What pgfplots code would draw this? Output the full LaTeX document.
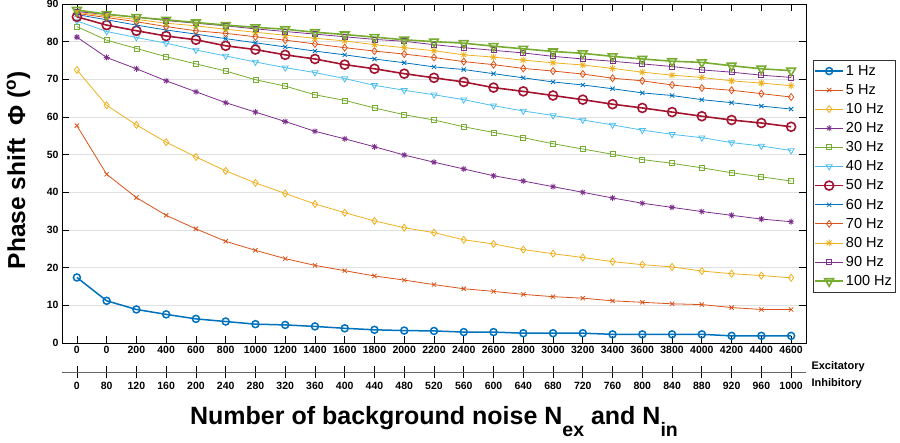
\documentclass[border=0pt]{standalone}
\usepackage{pgfplots}
\pgfplotsset{compat=1.18}
\usepackage{fontspec}
\setmainfont{Liberation Sans}
\definecolor{mb}{rgb}{0,0.447,0.741}
\definecolor{mo}{rgb}{0.85,0.325,0.098}
\definecolor{my}{rgb}{0.929,0.694,0.125}
\definecolor{mp}{rgb}{0.494,0.184,0.556}
\definecolor{mg}{rgb}{0.466,0.674,0.188}
\definecolor{mc}{rgb}{0.301,0.745,0.933}
\definecolor{mr}{rgb}{0.635,0.078,0.184}
\pgfdeclareplotmark{mstar}{%
  \pgfpathmoveto{\pgfpoint{0pt}{\pgfplotmarksize}}\pgfpathlineto{\pgfpoint{0pt}{-\pgfplotmarksize}}%
  \pgfpathmoveto{\pgfpoint{\pgfplotmarksize}{0pt}}\pgfpathlineto{\pgfpoint{-\pgfplotmarksize}{0pt}}%
  \pgfpathmoveto{\pgfpoint{0.707\pgfplotmarksize}{0.707\pgfplotmarksize}}\pgfpathlineto{\pgfpoint{-0.707\pgfplotmarksize}{-0.707\pgfplotmarksize}}%
  \pgfpathmoveto{\pgfpoint{0.707\pgfplotmarksize}{-0.707\pgfplotmarksize}}\pgfpathlineto{\pgfpoint{-0.707\pgfplotmarksize}{0.707\pgfplotmarksize}}%
  \pgfusepathqstroke}
\begin{document}
\begin{tikzpicture}
\useasboundingbox (-62pt,-100pt) rectangle (838pt,343pt);
\begin{axis}[
  scale only axis, width=744pt, height=339pt,
  xmin=-0.5, xmax=24.5, ymin=0, ymax=90,
  xtick={0,1,...,24},
  xticklabels={0,0,200,400,600,800,1000,1200,1400,1600,1800,2000,2200,2400,2600,2800,3000,3200,3400,3600,3800,4000,4200,4400,4600},
  ytick={0,10,...,90},
  tick align=inside, major tick length=7pt,
  tick style={black, line width=0.7pt},
  axis line style={black, line width=0.7pt},
  ymajorgrids, major grid style={black!12, line width=0.8pt},
  ticklabel style={font=\fontsize{10.5}{12}\selectfont\bfseries},
  /pgf/number format/assume math mode=true,
  ylabel={Phase shift\hspace{0.55em}Φ (\textsuperscript{o})},
  ylabel style={font=\fontsize{24.5}{28}\selectfont\bfseries, at={(axis description cs:-0.0497,0.51)}, anchor=base},
  legend style={at={(1,1)}, anchor=north west, xshift=7pt, yshift=-56pt, font=\fontsize{14.5}{16}\selectfont, draw=black!80, line width=0.7pt, inner xsep=1pt, inner ysep=3pt, row sep=3.5pt},
  legend cell align=left,
  legend image code/.code={\draw[mark repeat=2,mark phase=2,#1] plot coordinates {(0pt,0pt) (14pt,0pt) (28pt,0pt)};},
]
\addplot[mb, line width=1.5pt, mark=o, mark size=3.5pt] coordinates {(0,17.4)(1,11.2)(2,8.9)(3,7.6)(4,6.4)(5,5.7)(6,5.0)(7,4.8)(8,4.4)(9,3.9)(10,3.5)(11,3.3)(12,3.2)(13,2.9)(14,2.9)(15,2.6)(16,2.6)(17,2.6)(18,2.3)(19,2.3)(20,2.3)(21,2.3)(22,1.9)(23,1.9)(24,1.9)};
\addlegendentry{1 Hz}
\addplot[mo, line width=0.8pt, mark=x, mark size=3pt] coordinates {(0,57.7)(1,44.8)(2,38.6)(3,33.9)(4,30.3)(5,27.0)(6,24.6)(7,22.4)(8,20.6)(9,19.2)(10,17.8)(11,16.7)(12,15.5)(13,14.4)(14,13.7)(15,12.9)(16,12.3)(17,11.9)(18,11.2)(19,10.8)(20,10.4)(21,10.2)(22,9.4)(23,8.9)(24,8.9)};
\addlegendentry{5 Hz}
\addplot[my, line width=0.8pt, mark=diamond, mark size=3.5pt] coordinates {(0,72.5)(1,63.1)(2,57.9)(3,53.3)(4,49.4)(5,45.7)(6,42.5)(7,39.7)(8,36.9)(9,34.6)(10,32.4)(11,30.6)(12,29.3)(13,27.4)(14,26.3)(15,24.8)(16,23.7)(17,22.7)(18,21.6)(19,20.8)(20,20.2)(21,19.1)(22,18.4)(23,17.9)(24,17.3)};
\addlegendentry{10 Hz}
\addplot[mp, line width=0.8pt, mark=mstar, mark size=3pt] coordinates {(0,81.2)(1,75.8)(2,72.8)(3,69.6)(4,66.7)(5,63.8)(6,61.3)(7,58.8)(8,56.2)(9,54.2)(10,52.1)(11,49.9)(12,48.0)(13,46.2)(14,44.4)(15,43.0)(16,41.5)(17,40.0)(18,38.5)(19,37.1)(20,36.0)(21,34.9)(22,33.9)(23,32.9)(24,32.2)};
\addlegendentry{20 Hz}
\addplot[mg, line width=0.8pt, mark=square, mark size=2.5pt] coordinates {(0,84.0)(1,80.4)(2,78.2)(3,76.0)(4,74.1)(5,72.2)(6,69.9)(7,68.2)(8,65.9)(9,64.4)(10,62.4)(11,60.6)(12,59.2)(13,57.4)(14,55.9)(15,54.5)(16,52.9)(17,51.5)(18,50.1)(19,48.7)(20,47.7)(21,46.5)(22,45.2)(23,44.1)(24,43.0)};
\addlegendentry{30 Hz}
\addplot[mc, line width=0.8pt, mark=triangle, mark size=3.5pt, mark options={rotate=180}] coordinates {(0,85.5)(1,82.7)(2,81.1)(3,79.6)(4,77.8)(5,76.2)(6,74.6)(7,73.1)(8,71.8)(9,70.2)(10,68.4)(11,67.1)(12,65.9)(13,64.6)(14,63.0)(15,61.6)(16,60.4)(17,59.2)(18,57.9)(19,56.5)(20,55.4)(21,54.5)(22,53.2)(23,52.3)(24,51.1)};
\addlegendentry{40 Hz}
\addplot[mr, line width=1.6pt, mark=o, mark size=4.5pt] coordinates {(0,86.6)(1,84.4)(2,82.9)(3,81.5)(4,80.5)(5,78.9)(6,77.9)(7,76.5)(8,75.4)(9,73.9)(10,72.8)(11,71.5)(12,70.4)(13,69.3)(14,67.8)(15,66.8)(16,65.7)(17,64.6)(18,63.4)(19,62.4)(20,61.3)(21,60.2)(22,59.2)(23,58.4)(24,57.4)};
\addlegendentry{50 Hz}
\addplot[mb, line width=0.8pt, mark=x, mark size=3pt] coordinates {(0,87.2)(1,85.8)(2,84.4)(3,83.1)(4,82.0)(5,80.8)(6,79.7)(7,78.6)(8,77.5)(9,76.5)(10,75.4)(11,74.4)(12,73.3)(13,72.6)(14,71.5)(15,70.4)(16,69.3)(17,68.5)(18,67.5)(19,66.4)(20,65.7)(21,64.6)(22,63.8)(23,62.9)(24,62.1)};
\addlegendentry{60 Hz}
\addplot[mo, line width=0.8pt, mark=diamond, mark size=3.5pt] coordinates {(0,87.5)(1,86.4)(2,85.3)(3,84.0)(4,82.9)(5,82.2)(6,81.3)(7,80.4)(8,79.4)(9,78.4)(10,77.5)(11,76.7)(12,75.8)(13,74.7)(14,73.9)(15,72.9)(16,72.2)(17,71.4)(18,70.3)(19,69.6)(20,68.5)(21,67.7)(22,67.1)(23,66.2)(24,65.3)};
\addlegendentry{70 Hz}
\addplot[my, line width=0.8pt, mark=mstar, mark size=3.5pt] coordinates {(0,87.8)(1,86.8)(2,85.9)(3,84.9)(4,84.2)(5,83.3)(6,82.5)(7,81.7)(8,80.9)(9,80.2)(10,79.2)(11,78.4)(12,77.6)(13,76.5)(14,75.9)(15,75.1)(16,74.4)(17,73.8)(18,72.9)(19,71.9)(20,71.1)(21,70.5)(22,69.6)(23,69.0)(24,68.3)};
\addlegendentry{80 Hz}
\addplot[mp, line width=0.8pt, mark=square, mark size=2.5pt] coordinates {(0,88.0)(1,87.2)(2,86.5)(3,85.6)(4,84.9)(5,84.2)(6,83.4)(7,82.7)(8,82.0)(9,81.3)(10,80.6)(11,80.1)(12,79.2)(13,78.4)(14,77.7)(15,77.0)(16,76.1)(17,75.4)(18,74.8)(19,74.1)(20,73.4)(21,72.5)(22,71.9)(23,71.1)(24,70.5)};
\addlegendentry{90 Hz}
\addplot[mg, line width=1.6pt, mark=triangle, mark size=5pt, mark options={rotate=180}] coordinates {(0,88.4)(1,87.3)(2,86.5)(3,85.8)(4,85.1)(5,84.4)(6,83.8)(7,83.3)(8,82.5)(9,81.9)(10,81.2)(11,80.5)(12,80.0)(13,79.6)(14,78.8)(15,78.1)(16,77.4)(17,76.9)(18,76.1)(19,75.4)(20,74.8)(21,74.5)(22,73.6)(23,72.8)(24,72.3)};
\addlegendentry{100 Hz}
\end{axis}
\begin{axis}[
  at={(0pt,-29.5pt)}, anchor=south west,
  scale only axis, width=744pt, height=10pt,
  xmin=-0.5, xmax=24.5, ymin=0, ymax=1,
  axis x line=bottom, axis y line=none,
  xtick={0,1,...,24},
  xticklabels={0,80,120,160,200,240,280,320,360,400,440,480,520,560,600,640,680,720,760,800,840,880,920,960,1000},
  tick align=center, major tick length=12pt,
  x axis line style={black!60, line width=0.9pt, -},
  tick style={black, line width=0.7pt},
  xticklabel style={font=\fontsize{10.5}{12}\selectfont\bfseries},
]
\addplot[draw=none] coordinates {(0,0.5)};
\end{axis}
\node[anchor=west, font=\fontsize{11}{13}\selectfont\bfseries] at (746pt,-24pt) {Excitatory};
\node[anchor=west, font=\fontsize{11}{13}\selectfont\bfseries] at (746pt,-40.5pt) {Inhibitory};
\node[anchor=base, font=\fontsize{25}{28}\selectfont\bfseries] at (372pt,-82pt) {Number of background noise N\raisebox{-11.5pt}{\fontsize{19.5}{20}\selectfont ex} and N\raisebox{-11.5pt}{\fontsize{19.5}{20}\selectfont in}};
\end{tikzpicture}
\end{document}
